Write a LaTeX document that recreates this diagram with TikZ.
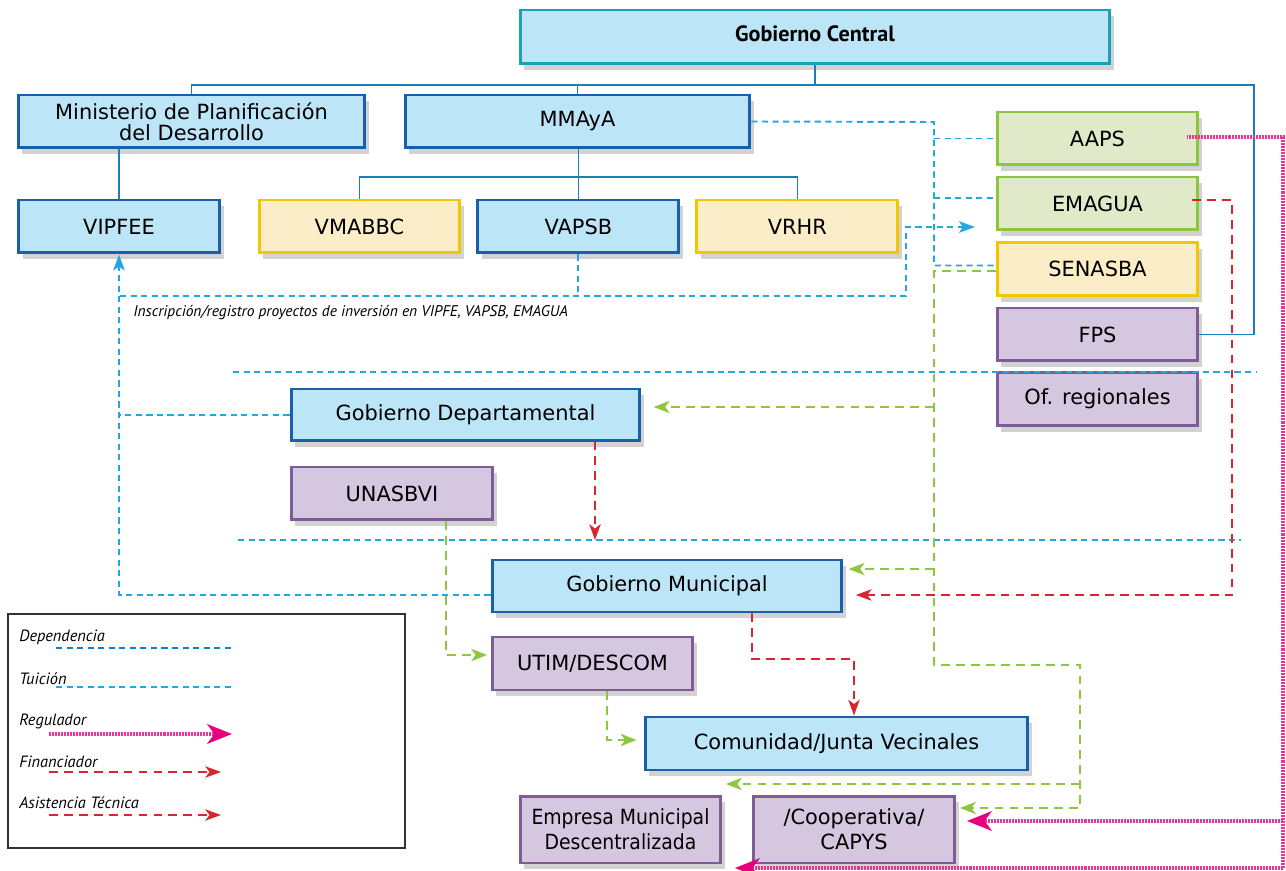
\documentclass[tikz,border=0pt]{standalone}
\usepackage{fontspec}
\newfontfamily\boxfont{DejaVu Sans}
\newfontfamily\labfont{PT Sans}
\usetikzlibrary{arrows.meta, positioning, shadows}

\definecolor{cfill}{HTML}{BDE5F8}
\definecolor{cblue}{HTML}{1A5FAB}
\definecolor{cteal}{HTML}{1AA0B8}
\definecolor{yfill}{HTML}{FBEDC7}
\definecolor{ydraw}{HTML}{F2C700}
\definecolor{gfill}{HTML}{E1EAC8}
\definecolor{gdraw}{HTML}{8CC63E}
\definecolor{pfill}{HTML}{D5C7DF}
\definecolor{pdraw}{HTML}{7E5C98}
\definecolor{tuic}{HTML}{22A8E0}
\definecolor{depc}{HTML}{0C82C2}
\definecolor{linkc}{HTML}{1780BA}
\definecolor{asic}{HTML}{8DC63F}
\definecolor{finc}{HTML}{D7262E}
\definecolor{regc}{HTML}{E6007E}

\begin{document}
\begin{tikzpicture}[
    x=0.02cm, y=-0.02cm,
    box/.style={draw, line width=1.7pt, align=center, inner sep=2pt,
                minimum width=4.02cm, minimum height=1.06cm,
                font=\boxfont\fontsize{11.9}{13.5}\selectfont,
                drop shadow={opacity=0.35, shadow xshift=2.5pt, shadow yshift=-3.5pt}},
    bluebox/.style={box, fill=cfill, draw=cblue},
    yelbox/.style={box, fill=yfill, draw=ydraw},
    grnbox/.style={box, fill=gfill, draw=gdraw},
    purbox/.style={box, fill=pfill, draw=pdraw},
    solidln/.style={linkc, line width=0.8pt},
    tuicion/.style={tuic, line width=1.1pt, dash pattern=on 3.5pt off 2.5pt},
    depend/.style={depc, line width=1.1pt, dash pattern=on 3.5pt off 2.5pt},
    finan/.style={finc, line width=1.1pt, dash pattern=on 5pt off 3.5pt},
    asist/.style={asic, line width=1.1pt, dash pattern=on 5pt off 3.5pt},
    regul/.style={regc!80, line width=2.8pt, dash pattern=on 0.5pt off 0.35pt},
    tuarrow/.style={tuicion, -{Stealth[length=9pt, width=6.5pt, inset=2pt]}},
    finarrow/.style={finan, -{Stealth[length=9pt, width=6.5pt, inset=2.5pt]}},
    asarrow/.style={asist, -{Stealth[length=9pt, width=7pt, inset=2.5pt]}},
    regarrow/.style={regul, -{Stealth[length=14pt, width=11pt, inset=4pt, color=regc]}},
    leglabel/.style={font=\labfont\itshape\fontsize{9.3}{10}\selectfont, inner sep=0pt}
]
\fill[white] (0,0) rectangle (1286,871);
\useasboundingbox (0,0) rectangle (1286,871);

% Central level
\node[box, fill=cfill, draw=cteal, minimum width=11.8cm, minimum height=1.08cm,
      font=\labfont\bfseries\fontsize{12.6}{13}\selectfont] (central) at (815,37)
    {\raisebox{4pt}{Gobierno Central}};
\node[bluebox, minimum width=6.94cm, font=\boxfont\fontsize{11.9}{11.9}\selectfont]
    (minis) at (191.5,121.5) {Ministerio de Planificación\\del Desarrollo};
\node[bluebox, minimum width=6.9cm] (mmaya) at (577.5,121.5) {MMAyA};

\node[bluebox] (vipfee) at (119,226.5) {VIPFEE};
\node[yelbox] (vmabbc) at (359.5,226.5) {VMABBC};
\node[bluebox, right=0.3cm of vmabbc] (vapsb) {VAPSB};
\node[yelbox, right=0.3cm of vapsb] (vrhr) {VRHR};

\node[grnbox] (aaps) at (1097.5,138.5) {AAPS};
\node[grnbox] (emagua) at (1097.5,203.5) {EMAGUA};
\node[yelbox] (senasba) at (1097.5,269) {SENASBA};
\node[purbox] (fps) at (1097.5,334.5) {FPS};
\node[purbox] (ofreg) at (1097.5,399) {Of. regionales};

% Departmental / municipal level
\node[bluebox, minimum width=6.98cm, minimum height=1.04cm] (gdep) at (465.5,415) {Gobierno Departamental};
\node[purbox, minimum width=4.04cm] (unasbvi) at (392,493.5) {UNASBVI};
\node[bluebox, minimum width=7.0cm, minimum height=1.04cm] (gmun) at (667,586) {Gobierno Municipal};
\node[purbox] (utim) at (592.5,663.5) {UTIM/DESCOM};
\node[bluebox, minimum width=7.66cm] (comun) at (836.5,743.5) {Comunidad/Junta Vecinales};
\node[purbox, minimum height=1.34cm, font=\boxfont\fontsize{11.9}{14}\selectfont] (empresa) at (620.5,829.5)
    {\scalebox{0.9}[1]{Empresa Municipal}\\\scalebox{0.9}[1]{Descentralizada}};
\node[purbox, minimum width=4.04cm, minimum height=1.34cm, font=\boxfont\fontsize{11.9}{14}\selectfont]
    (coop) at (854,829.5) {/Cooperativa/\\CAPYS};

% Dependencia (solid)
\coordinate (bus) at (815,85);
\coordinate (busR) at (1254,85);
\coordinate (vbus) at (579,177);
\draw[solidln] (central.south) -- (bus);
\draw[solidln] (minis.north) |- (busR) |- (fps.east);
\draw[solidln] (mmaya.north) -- (mmaya.north |- bus);
\draw[solidln] (vipfee.north) -- (vipfee.north |- minis.south);
\draw[solidln] (vapsb.north) -- (vapsb.north |- mmaya.south);
\draw[solidln] (vmabbc.north) |- (vbus) -| (vrhr.north);

% Tuicion
\coordinate (tbus) at (934,122);
\draw[tuicion] (mmaya.east) -- (tbus) |- ([yshift=2pt]senasba.west);
\draw[tuicion] (tbus |- aaps.west) -- (aaps.west);
\draw[tuicion] (tbus |- 0,198) -- (emagua.west |- 0,198);

% Inscripcion
\coordinate (insL) at (120,296);
\coordinate (insR) at (906,296);
\coordinate (insT) at (975,227);
\draw[tuicion] (vapsb.south) -- (vapsb.south |- insR);
\draw[tuarrow] (insL) -- (insR) |- (insT);
\draw[tuarrow] ([yshift=-5pt]gmun.west) -| (vipfee.south);
\draw[tuicion] (gdep.west) -- (gdep.west -| insL);
\node[leglabel, font=\labfont\itshape\fontsize{8.8}{10}\selectfont, anchor=base west] (insc) at (133,317)
    {Inscripción/registro proyectos de inversión en VIPFE, VAPSB, EMAGUA};

% Level separators
\coordinate (sepA) at (233,372);
\coordinate (sepB) at (1256,372);
\coordinate (sepC) at (238,540);
\coordinate (sepD) at (1241,540);
\draw[tuicion] (sepA) -- (sepB);
\draw[tuicion] (sepC) -- (sepD);

% Financiador
\coordinate (fR) at (1232,595);
\coordinate (dtop) at (595,441);
\coordinate (mm) at (752,659);
\coordinate (mr) at (854,659);
\draw[finarrow, shorten >=7pt] ([xshift=-4pt, yshift=2pt]emagua.east) -| (fR) -- (fR -| gmun.east);
\draw[finarrow] (dtop) -- (dtop |- sepC);
\draw[finarrow] (gmun.south -| mm) -- (mm) -- (mr) -- (mr |- comun.north);

% Asistencia tecnica
\coordinate (gx) at (934,665);
\coordinate (gy) at (1080,665);
\coordinate (gz) at (1080,808);
\coordinate (ta) at (726,784);
\coordinate (ub) at (446,655);
\coordinate (ct) at (607,740);
\draw[asarrow, shorten >=2pt] ([yshift=-1pt]senasba.west) -| (gx) -- (gy) -- (gz) -- (gz -| coop.east);
\draw[asarrow, shorten >=7pt] (gx |- 0,407) -- (gdep.east |- 0,407);
\draw[asarrow, shorten >=3pt] (gx |- 0,569) -- (gmun.east |- 0,569);
\draw[asarrow] (gz |- ta) -- (ta);
\draw[asarrow, shorten >=2pt] (unasbvi.south -| ub) -- (ub) -- (ub -| utim.west);
\draw[asarrow, shorten >=4pt] (utim.south -| ct) -- (ct) -- (ct -| comun.west);

% Regulador
\coordinate (regR) at (1283,137);
\coordinate (regB) at (1283,868);
\coordinate (rb) at (735,868);
\draw[regul] ([xshift=-7pt]aaps.east |- regR) -- (regR) -- (regB);
\draw[regarrow] (regB) -- (rb);
\draw[regarrow, shorten >=6pt] (regR |- 0,821) -- (coop.east |- 0,821);

% Legend
\node[draw=black!80, line width=0.8pt, minimum width=7.94cm, minimum height=4.68cm, inner sep=0pt]
    (legend) at (206.5,731) {};
\node[leglabel, anchor=base west] (lgdep) at (19,642) {Dependencia};
\node[leglabel, anchor=base west] (lgtui) at (19,684) {Tuición};
\node[leglabel, anchor=base west] (lgreg) at (19,725) {Regulador};
\node[leglabel, anchor=base west] (lgfin) at (19,767) {Financiador};
\node[leglabel, anchor=base west] (lgasi) at (19,808) {Asistencia Técnica};
\coordinate (l1a) at (56,648);  \coordinate (l1b) at (232,648);
\coordinate (l2a) at (56,687);  \coordinate (l2b) at (232,687);
\coordinate (l3a) at (49,734);  \coordinate (l3b) at (232,734);
\coordinate (l4a) at (49,772);  \coordinate (l4b) at (221,772);
\coordinate (l5a) at (49,815);  \coordinate (l5b) at (221,815);
\draw[depend] (l1a) -- (l1b);
\draw[tuicion] (l2a) -- (l2b);
\draw[regarrow] (l3a) -- (l3b);
\draw[finarrow] (l4a) -- (l4b);
\draw[finarrow] (l5a) -- (l5b);

\end{tikzpicture}
\end{document}
